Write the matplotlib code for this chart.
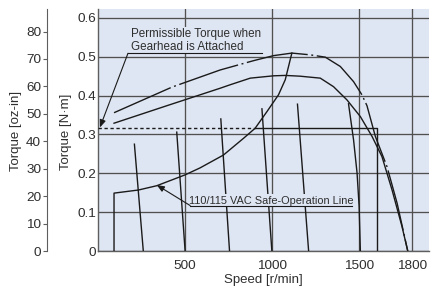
import matplotlib.pyplot as plt

plt.rcParams['font.family'] = ['Liberation Sans', 'DejaVu Sans']
plt.rcParams['lines.scale_dashes'] = False

# speed [r/min] / torque [N·m]
upper_speed = [92, 425, 701, 893, 1008, 1113, 1218, 1305, 1391, 1467, 1515, 1544, 1592, 1659, 1717, 1778]
upper_torque = [0.356, 0.422, 0.466, 0.490, 0.503, 0.5095, 0.505, 0.499, 0.475, 0.436, 0.402, 0.374, 0.295, 0.217, 0.123, 0.0]

lower_speed = [92, 395, 701, 759, 874, 1008, 1075, 1161, 1276, 1352, 1429, 1506, 1573, 1630, 1688, 1745, 1778]
lower_torque = [0.329, 0.374, 0.419, 0.428, 0.445, 0.451, 0.452, 0.450, 0.445, 0.423, 0.389, 0.346, 0.295, 0.243, 0.157, 0.063, 0.0]

safe_speed = [92, 92, 232, 337, 500, 586, 720, 835, 902, 970, 1036, 1075, 1103, 1113]
safe_torque = [0.0, 0.149, 0.157, 0.168, 0.196, 0.214, 0.247, 0.290, 0.316, 0.359, 0.402, 0.441, 0.492, 0.5095]

gear_dotted_speed = [0, 902]
gear_dotted_torque = [0.316, 0.316]
gear_solid_speed = [902, 1600, 1600]
gear_solid_torque = [0.316, 0.316, 0.0]

load_speeds = [[209, 260], [452, 500], [705, 755], [941, 998], [1145, 1209],
               [1438, 1467, 1487, 1499, 1506]]
load_torques = [[0.275, 0.0], [0.306, 0.0], [0.340, 0.0], [0.366, 0.0], [0.378, 0.0],
                [0.379, 0.286, 0.201, 0.114, 0.0]]

x_ticks = [500, 1000, 1500, 1800]
nm_ticks = [0, 0.1, 0.2, 0.3, 0.4, 0.5, 0.6]
nm_labels = ['0', '0.1', '0.2', '0.3', '0.4', '0.5', '0.6']
oz_ticks = [0, 10, 20, 30, 40, 50, 60, 70, 80]

NM_PER_OZIN = 0.0070616
bg = '#dfe6f3'
ink = '#1a1a1a'
grid_c = '#505050'
txt_c = '#2e2e2e'

fig = plt.figure(figsize=(4.35, 2.97), dpi=100)
ax = fig.add_axes([98 / 435, 1 - 251 / 297, 331 / 435, 242 / 297])
ax.set_facecolor(bg)
ax.set_xlim(0, 1900)
ax.set_ylim(0, 0.623)

# grid
ax.set_xticks(x_ticks)
ax.set_yticks(nm_ticks)
ax.set_yticklabels(nm_labels)
ax.grid(True, color=grid_c, linewidth=0.95, zorder=1)
ax.set_axisbelow(True)
for side in ['top', 'right']:
    ax.spines[side].set_visible(False)
for side in ['left', 'bottom']:
    ax.spines[side].set_color('#5e5e5e')
    ax.spines[side].set_linewidth(1.0)
ax.tick_params(axis='both', length=0, labelsize=9.7, labelcolor=txt_c)
ax.tick_params(axis='y', pad=1.5)
ax.tick_params(axis='x', pad=6.5)
ax.set_xlabel('Speed [r/min]', fontsize=9.5, color=txt_c, labelpad=1.5)

# curves
ax.plot(upper_speed, upper_torque, color=ink, lw=1.0, zorder=3,
        linestyle=(0, (44.6, 2.6, 1.4, 2.6)))
ax.plot(lower_speed, lower_torque, color=ink, lw=1.0, zorder=3)
ax.plot(safe_speed, safe_torque, color=ink, lw=1.0, zorder=3)
ax.plot(gear_dotted_speed, gear_dotted_torque, color=ink, lw=1.0, zorder=3,
        linestyle=(0, (2.4, 1.9)))
ax.plot(gear_solid_speed, gear_solid_torque, color=ink, lw=1.0, zorder=3)
for sp, tq in zip(load_speeds, load_torques):
    ax.plot(sp, tq, color=ink, lw=1.0, zorder=3)

# annotations
ax.text(190, 0.509, 'Permissible Torque when\nGearhead is Attached', fontsize=8.4,
        color=txt_c, ha='left', va='bottom', linespacing=1.1, zorder=4,
        bbox=dict(boxstyle='square,pad=0.1', fc=bg, ec='none'))
ax.plot([172, 940], [0.509, 0.509], color=ink, lw=0.8, zorder=5)
ax.annotate('', xy=(11, 0.318), xytext=(172, 0.509), zorder=5,
            arrowprops=dict(arrowstyle='-|>,head_length=0.45,head_width=0.18',
                            color=ink, lw=0.8, shrinkA=0, shrinkB=0))

ax.text(523, 0.117, '110/115 VAC Safe-Operation Line', fontsize=7.9,
        color=txt_c, ha='left', va='bottom', zorder=4,
        bbox=dict(boxstyle='square,pad=0.1', fc=bg, ec='none'))
ax.plot([529, 1460], [0.117, 0.117], color=ink, lw=0.8, zorder=5)
ax.annotate('', xy=(337, 0.170), xytext=(529, 0.117), zorder=5,
            arrowprops=dict(arrowstyle='-|>,head_length=0.45,head_width=0.18',
                            color=ink, lw=0.8, shrinkA=0, shrinkB=0))

# second torque scale in oz-in
sec = ax.secondary_yaxis(-0.155, functions=(lambda v: v / NM_PER_OZIN,
                                            lambda v: v * NM_PER_OZIN))
sec.set_yticks(oz_ticks)
sec.spines['left'].set_color('#5e5e5e')
sec.tick_params(axis='y', direction='out', length=3, width=0.8, color='#5e5e5e',
                pad=1, labelsize=9.7, labelcolor=txt_c)

fig.text(66 / 435, 1 - 132 / 297, 'Torque [N·m]', rotation=90, fontsize=9.5,
         color=txt_c, ha='center', va='center')
fig.text(16 / 435, 1 - 131 / 297, 'Torque [oz-in]', rotation=90, fontsize=9.5,
         color=txt_c, ha='center', va='center')

fig.savefig('out.png', dpi=100)
plt.close(fig)
